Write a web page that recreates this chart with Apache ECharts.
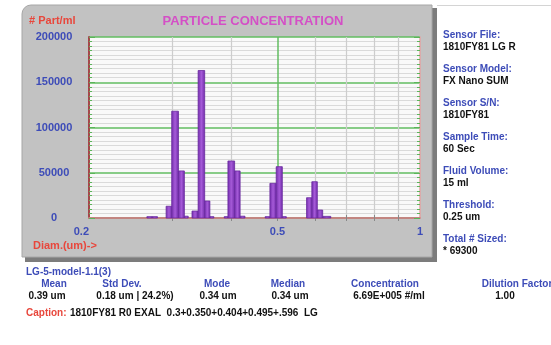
<!DOCTYPE html>
<html>
<head>
<meta charset="utf-8">
<script src="https://cdn.jsdelivr.net/npm/echarts@6/dist/echarts.min.js"></script>
<style>
  html, body { margin: 0; padding: 0; background: #ffffff; }
  #chart { width: 551px; height: 345px; }
</style>
</head>
<body>
<div id="chart"></div>
<script>
// Size channels (µm) and particle counts per channel (#/ml)
const binFrom = [0.265, 0.272, 0.291, 0.299, 0.309, 0.318, 0.330, 0.340, 0.351, 0.360, 0.386, 0.393, 0.406, 0.417, 0.471, 0.482, 0.497, 0.512, 0.576, 0.591, 0.607, 0.623];
const binTo   = [0.272, 0.279, 0.299, 0.309, 0.318, 0.324, 0.340, 0.351, 0.360, 0.367, 0.393, 0.406, 0.417, 0.427, 0.482, 0.497, 0.512, 0.522, 0.591, 0.607, 0.623, 0.648];
const counts  = [1500, 1500, 13000, 118000, 52000, 2000, 7700, 163000, 18800, 1500, 1500, 63000, 52000, 2000, 1500, 38300, 56700, 1500, 22400, 40100, 8800, 1800];

// Axis ticks
const xLabelValues = [0.2, 0.5, 1];
const xMinorGridValues = [0.3, 0.4, 0.6, 0.7, 0.8, 0.9];
const xMajorGridValues = [0.5];
const yMin = 0, yMax = 200000, yStep = 50000;

// Side panel entries
const infoLabels = ['Sensor File:', 'Sensor Model:', 'Sensor S/N:', 'Sample Time:', 'Fluid Volume:', 'Threshold:', 'Total # Sized:'];
const infoValues = ['1810FY81 LG R', 'FX Nano SUM', '1810FY81', '60 Sec', '15 ml', '0.25 um', '* 69300'];

// Summary statistics
const statLabels = ['Mean', 'Std Dev.', 'Mode', 'Median', 'Concentration', 'Dilution Factor'];
const statValues = ['0.39 um', '0.18 um | 24.2%)', '0.34 um', '0.34 um', '6.69E+005 #/ml', '1.00'];

const titleText = 'PARTICLE CONCENTRATION';
const yName = '# Part/ml';
const xName = 'Diam.(um)->';
const modelText = 'LG-5-model-1.1(3)';
const captionText = '1810FY81 R0 EXAL  0.3+0.350+0.404+0.495+.596  LG';

const FONT = '"Liberation Sans", Arial, sans-serif';
const BLUE = '#3d4cb8';
const RED = '#e8473c';
const GRID_GREEN = '#62bd60';
const MINOR_GRAY = '#dadada';

const chart = echarts.init(document.getElementById('chart'), null, { renderer: 'canvas' });

const bins = binFrom.map((f, i) => [f, binTo[i], counts[i]]);

const graphics = [];
// panel shadow and panel body
graphics.push({ type: 'rect', z: -10, shape: { x: 25, y: 8, width: 412, height: 254, r: [9, 0, 0, 0] }, style: { fill: '#7c7c7c' } });
graphics.push({ type: 'rect', z: -9, shape: { x: 22, y: 5, width: 410, height: 252, r: [9, 0, 0, 0] }, style: { fill: '#c2c2c2', stroke: '#a6a6a6', lineWidth: 1 } });
graphics.push({ type: 'line', z: -9, shape: { x1: 437, y1: 5.5, x2: 551, y2: 5.5 }, style: { stroke: '#d4d4d4', lineWidth: 1 } });

// header texts
graphics.push({ type: 'text', x: 253, y: 21, style: { text: titleText, fill: '#d44fc6', font: 'bold 13px ' + FONT, align: 'center', verticalAlign: 'middle' } });
graphics.push({ type: 'text', x: 29, y: 21, style: { text: yName, fill: RED, font: 'bold 11px ' + FONT, align: 'left', verticalAlign: 'middle' } });
graphics.push({ type: 'text', x: 33, y: 246, style: { text: xName, fill: RED, font: 'bold 11px ' + FONT, align: 'left', verticalAlign: 'middle' } });

// side panel
infoLabels.forEach((t, i) => {
  const y0 = 35 + i * 34;
  graphics.push({ type: 'text', x: 443, y: y0, style: { text: t, fill: BLUE, font: 'bold 10px ' + FONT, align: 'left', verticalAlign: 'middle' } });
  graphics.push({ type: 'text', x: 443, y: y0 + 12, style: { text: infoValues[i], fill: '#111111', font: 'bold 10px ' + FONT, align: 'left', verticalAlign: 'middle' } });
});

// model line, statistics and caption
graphics.push({ type: 'text', x: 26, y: 272, style: { text: modelText, fill: BLUE, font: 'bold 10px ' + FONT, align: 'left', verticalAlign: 'middle' } });
const labelCenters = [54, 122, 217, 288, 385, 517];
const valueCenters = [47, 135, 218, 290, 389, 505];
statLabels.forEach((t, i) => {
  graphics.push({ type: 'text', x: labelCenters[i], y: 284, style: { text: t, fill: BLUE, font: 'bold 10px ' + FONT, align: 'center', verticalAlign: 'middle' } });
  graphics.push({ type: 'text', x: valueCenters[i], y: 296, style: { text: statValues[i], fill: '#111111', font: 'bold 10px ' + FONT, align: 'center', verticalAlign: 'middle' } });
});
graphics.push({
  type: 'text', x: 26, y: 313,
  style: {
    text: '{c|Caption:} {t|' + captionText + '}',
    rich: {
      c: { fill: RED, font: 'bold 10px ' + FONT },
      t: { fill: '#111111', font: 'bold 10px ' + FONT }
    },
    align: 'left', verticalAlign: 'middle'
  }
});

const logAxisBase = { type: 'log', logBase: 10, min: 0.2, max: 1, gridIndex: 0 };

const option = {
  animation: false,
  backgroundColor: '#ffffff',
  textStyle: { fontFamily: FONT },
  graphic: graphics,
  grid: { left: 89, top: 37, width: 331, height: 181, show: true, backgroundColor: '#f9f9f9', borderWidth: 0 },
  xAxis: [
    Object.assign({}, logAxisBase, {
      position: 'bottom',
      axisLine: { show: true, lineStyle: { color: '#e3a3a3', width: 1.5 } },
      axisTick: { show: true, inside: true, length: 3, customValues: xMinorGridValues, lineStyle: { color: '#888888' } },
      axisLabel: {
        customValues: xLabelValues, color: BLUE, fontWeight: 'bold', fontSize: 11, margin: 8,
        alignMinLabel: 'right',
        formatter: v => String(Math.round(v * 10) / 10)
      },
      splitLine: { show: true, lineStyle: { color: '#cdcdcd', width: 1.2 } }
    }),
    Object.assign({}, logAxisBase, {
      position: 'top',
      axisLine: { show: true, lineStyle: { color: '#c07a7a', width: 1.5 } },
      axisTick: { show: true, inside: true, length: 3, customValues: xMinorGridValues.concat(xMajorGridValues), lineStyle: { color: '#888888' } },
      axisLabel: { show: false },
      splitLine: { show: false }
    }),
    Object.assign({}, logAxisBase, {
      position: 'bottom',
      axisLine: { show: false },
      axisTick: { show: false, customValues: xMajorGridValues },
      axisLabel: { show: false },
      splitLine: { show: true, lineStyle: { color: GRID_GREEN, width: 1.5 } }
    })
  ],
  yAxis: [
    {
      type: 'value', min: yMin, max: yMax, interval: yStep, position: 'left',
      axisLine: { show: true, lineStyle: { color: '#a4484a', width: 2 } },
      axisTick: { show: true, inside: true, length: 6, lineStyle: { color: '#5cb45a' } },
      minorTick: { show: true, splitNumber: 10, length: 3, lineStyle: { color: '#5cb45a' } },
      axisLabel: { color: BLUE, fontWeight: 'bold', fontSize: 11, align: 'center', margin: 35, formatter: v => String(v) },
      splitLine: { show: true, lineStyle: { color: GRID_GREEN, width: 1.5 } },
      minorSplitLine: { show: true, lineStyle: { color: MINOR_GRAY, width: 1 } }
    },
    {
      type: 'value', min: yMin, max: yMax, interval: yStep, position: 'right',
      axisLine: { show: true, lineStyle: { color: '#e3a3a3', width: 1.5 } },
      axisTick: { show: true, inside: true, length: 6, lineStyle: { color: '#5cb45a' } },
      minorTick: { show: true, splitNumber: 10, length: 3, lineStyle: { color: '#5cb45a' } },
      axisLabel: { show: false },
      splitLine: { show: false }
    }
  ],
  series: [
    {
      type: 'custom',
      xAxisIndex: 0, yAxisIndex: 0,
      data: bins,
      encode: { x: [0, 1], y: 2 },
      renderItem: function (params, api) {
        const top = api.coord([api.value(0), api.value(2)]);
        const base = api.coord([api.value(1), 0]);
        return {
          type: 'rect',
          shape: { x: top[0], y: top[1], width: base[0] - top[0], height: base[1] - top[1] },
          style: {
            fill: new echarts.graphic.LinearGradient(0, 0, 1, 0, [
              { offset: 0, color: '#6f2aa8' },
              { offset: 0.5, color: '#a55ad8' },
              { offset: 1, color: '#6f2aa8' }
            ]),
            stroke: '#6a2aa0',
            lineWidth: 0.8
          }
        };
      }
    }
  ]
};

chart.setOption(option);
</script>
</body>
</html>
